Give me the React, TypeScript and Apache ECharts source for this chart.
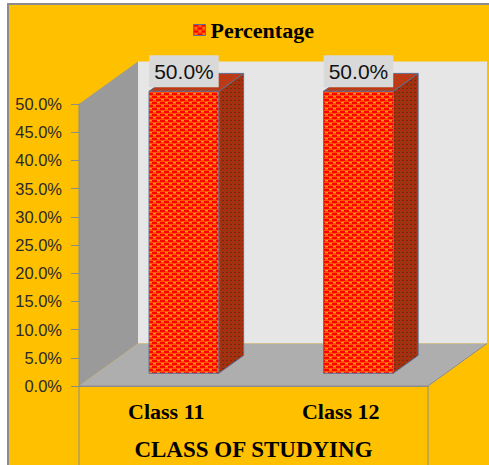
import React, { useEffect, useRef } from 'react';
import * as echarts from 'echarts';

const categories = ['Class 11', 'Class 12'];
const percentages = [0.5, 0.5];
const seriesName = 'Percentage';
const axisTitle = 'CLASS OF STUDYING';
const yMin = 0;
const yMax = 0.5;
const yStep = 0.05;

const DEPTH_X = 59;
const DEPTH_Y = -42.5;
const BAR_FRONT = 0.3;
const BAR_DEPTH = 0.42;
const EDGE = '#5A6F94';

const pct = (v: number) => (v * 100).toFixed(1) + '%';

function makeTile(w: number, h: number, bg: string, rects: [string, number, number, number, number][]) {
  const c = document.createElement('canvas');
  c.width = w;
  c.height = h;
  const ctx = c.getContext('2d')!;
  ctx.fillStyle = bg;
  ctx.fillRect(0, 0, w, h);
  rects.forEach(([col, x, y, rw, rh]) => {
    ctx.fillStyle = col;
    ctx.fillRect(x, y, rw, rh);
  });
  return { image: c, repeat: 'repeat', imageWidth: w, imageHeight: h } as any;
}

export default function App() {
  const ref = useRef<HTMLDivElement>(null);
  useEffect(() => {
    if (!ref.current) return;
    const chart = echarts.init(ref.current, undefined, { renderer: 'svg' });
    const front = makeTile(8, 6, '#FF5200', [
      ['#FF0000', 0, 0, 5, 2],
      ['#FF0000', 4, 3, 4, 2],
      ['#FF0000', 0, 3, 1, 2],
      ['#FF9420', 5, 0, 3, 1],
      ['#FF9420', 1, 3, 3, 1],
    ]);
    const side = makeTile(4, 4, '#943812', [
      ['#C8200C', 0, 0, 2, 1],
      ['#C8200C', 2, 2, 2, 1],
      ['#6E2A0E', 2, 0, 2, 1],
    ]);
    const topP = makeTile(4, 4, '#B0401A', [
      ['#DC2A0A', 0, 0, 2, 1],
      ['#DC2A0A', 2, 2, 2, 1],
    ]);

    const serif = '"Liberation Serif", "Times New Roman", serif';
    const sans = '"Liberation Sans", Arial, sans-serif';

    const option: any = {
      animation: false,
      backgroundColor: '#FFFFFF',
      graphic: [
        {
          type: 'rect',
          z: -10,
          shape: { x: 8, y: 4, width: 500, height: 500 },
          style: { fill: '#FFC000', stroke: '#8C8C8C', lineWidth: 2 },
        },
      ],
      legend: {
        data: [seriesName],
        left: 188,
        top: 14,
        itemWidth: 12,
        itemHeight: 11,
        icon: 'rect',
        itemStyle: { borderColor: EDGE, borderWidth: 1 },
        textStyle: { fontFamily: serif, fontWeight: 'bold', fontSize: 22, color: '#000' },
      },
      grid: { left: 79, top: 104, right: 61, bottom: 79, containLabel: false, outerBoundsMode: 'none' },
      xAxis: {
        type: 'category',
        data: categories,
        boundaryGap: true,
        axisLine: { show: true, lineStyle: { color: '#8C8C8C' } },
        axisTick: { show: false },
        axisLabel: { margin: 14, fontFamily: serif, fontWeight: 'bold', fontSize: 22, color: '#000' },
        name: axisTitle,
        nameLocation: 'middle',
        nameGap: 52,
        nameTextStyle: { fontFamily: serif, fontWeight: 'bold', fontSize: 23, color: '#000' },
        splitLine: { show: false },
      },
      yAxis: {
        type: 'value',
        min: yMin,
        max: yMax,
        interval: yStep,
        axisLine: { show: true, lineStyle: { color: '#8C8C8C' } },
        axisTick: { show: true, length: 8, lineStyle: { color: '#8C8C8C' } },
        axisLabel: { margin: 17, fontFamily: sans, fontSize: 16.5, color: '#2B2B2B', formatter: (v: number) => pct(v) },
        splitLine: { show: false },
      },
      series: [
        {
          type: 'custom',
          z: 1,
          silent: true,
          data: [[0, 0]],
          renderItem: (params: any, api: any) => {
            const cs = params.coordSys;
            const x0 = cs.x, x1 = cs.x + cs.width, yT = cs.y, yB = cs.y + cs.height;
            const H = api.getHeight();
            return {
              type: 'group',
              children: [
                {
                  type: 'polygon',
                  shape: { points: [[x0 + DEPTH_X, yT + DEPTH_Y], [x1 + DEPTH_X, yT + DEPTH_Y], [x1 + DEPTH_X, yB + DEPTH_Y], [x0 + DEPTH_X, yB + DEPTH_Y]] },
                  style: { fill: '#E6E6E6' },
                },
                {
                  type: 'polygon',
                  shape: { points: [[x0, yT], [x0 + DEPTH_X, yT + DEPTH_Y], [x0 + DEPTH_X, yB + DEPTH_Y], [x0, yB]] },
                  style: { fill: '#9A9A9A' },
                },
                {
                  type: 'polygon',
                  shape: { points: [[x0, yB], [x0 + DEPTH_X, yB + DEPTH_Y], [x1 + DEPTH_X, yB + DEPTH_Y], [x1, yB]] },
                  style: { fill: '#AEAEAE' },
                },
                {
                  type: 'polyline',
                  shape: { points: [[x0, yT], [x0, H]] },
                  style: { stroke: '#8C8C8C', lineWidth: 1, fill: null },
                },
                {
                  type: 'polyline',
                  shape: { points: [[x1 + DEPTH_X, yB + DEPTH_Y], [x1, yB], [x1, H]] },
                  style: { stroke: '#8C8C8C', lineWidth: 1, fill: null },
                },
                {
                  type: 'polyline',
                  shape: { points: [[x0, yB], [x1, yB]] },
                  style: { stroke: '#8C8C8C', lineWidth: 1, fill: null },
                },
              ],
            };
          },
        },
        {
          type: 'custom',
          name: seriesName,
          z: 2,
          itemStyle: { color: front, borderColor: EDGE },
          data: categories.map((c, i) => [i, percentages[i]]),
          encode: { x: 0, y: 1 },
          renderItem: (params: any, api: any) => {
            const idx = api.value(0);
            const v = api.value(1);
            const base = api.coord([idx, 0]);
            const tp = api.coord([idx, v]);
            const band = api.size([1, 0])[0];
            const w = band * 0.4;
            const ox = DEPTH_X * BAR_FRONT, oy = DEPTH_Y * BAR_FRONT;
            const dx = DEPTH_X * BAR_DEPTH, dy = DEPTH_Y * BAR_DEPTH;
            const fx0 = base[0] + ox - w / 2, fx1 = fx0 + w;
            const fyB = base[1] + oy, fyT = tp[1] + oy;
            return {
              type: 'group',
              children: [
                {
                  type: 'polygon',
                  shape: { points: [[fx1, fyT], [fx1 + dx, fyT + dy], [fx1 + dx, fyB + dy], [fx1, fyB]] },
                  style: { fill: side, stroke: EDGE, lineWidth: 1 },
                },
                {
                  type: 'polygon',
                  shape: { points: [[fx0, fyT], [fx0 + dx, fyT + dy], [fx1 + dx, fyT + dy], [fx1, fyT]] },
                  style: { fill: topP, stroke: EDGE, lineWidth: 1 },
                },
                {
                  type: 'rect',
                  shape: { x: fx0, y: fyT, width: w, height: fyB - fyT },
                  style: { fill: front, stroke: EDGE, lineWidth: 1 },
                },
                {
                  type: 'text',
                  x: (fx0 + fx1) / 2,
                  y: fyT - 4,
                  style: {
                    text: pct(v),
                    font: '21px ' + sans,
                    fill: '#111',
                    align: 'center',
                    verticalAlign: 'bottom',
                    backgroundColor: '#D9D9D9',
                    padding: [6, 5, 5, 5],
                  },
                },
              ],
            };
          },
        },
      ],
    };
    chart.setOption(option);
    return () => chart.dispose();
  }, []);
  return <div ref={ref} style={{ position: 'fixed', left: 0, top: 0, width: 489, height: 465 }} />;
}
